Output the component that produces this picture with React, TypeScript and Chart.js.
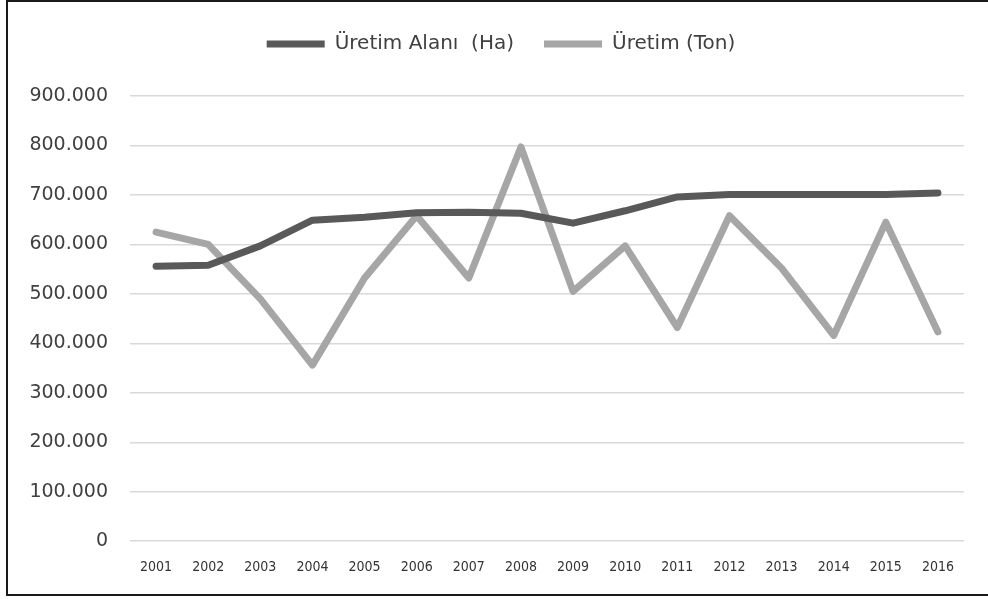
import React, { useEffect, useRef } from "react";
import { Chart, registerables } from "chart.js";

Chart.register(...registerables);

const years = ["2001","2002","2003","2004","2005","2006","2007","2008","2009","2010","2011","2012","2013","2014","2015","2016"];
const alanHa = [556000, 558000, 597000, 649000, 655000, 664000, 665000, 663000, 643000, 668000, 696000, 701000, 701000, 701000, 701000, 704000];
const uretimTon = [625000, 600000, 490000, 356000, 532000, 658000, 532000, 797000, 505000, 597000, 432000, 658000, 552000, 416000, 645000, 423000];
const seriesNames = ["Üretim Alanı  (Ha)", "Üretim (Ton)"];
const yTicksMax = 900000;
const yStep = 100000;

function fmt(v: number): string {
  return String(Math.round(v)).replace(/\B(?=(\d{3})+(?!\d))/g, ".");
}

const legendSpacer = {
  id: "legendSpacer",
  beforeInit(chart: any) {
    const legend = chart.legend;
    if (!legend) return;
    const origFit = legend.fit;
    legend.fit = function () {
      origFit.call(this);
      this.height += 32;
    };
  },
  afterLayout(chart: any) {
    if (chart.legend) chart.legend.left += 30;
  },
};

export default function App() {
  const ref = useRef<HTMLCanvasElement | null>(null);
  useEffect(() => {
    if (!ref.current) return;
    const chart = new Chart(ref.current, {
      type: "line",
      data: {
        labels: years,
        datasets: [
          {
            label: seriesNames[0],
            data: alanHa,
            borderColor: "#595959",
            backgroundColor: "#595959",
            borderWidth: 7,
            pointRadius: 0,
            borderCapStyle: "round",
            borderJoinStyle: "round",
            tension: 0,
          },
          {
            label: seriesNames[1],
            data: uretimTon,
            borderColor: "#a6a6a6",
            backgroundColor: "#a6a6a6",
            borderWidth: 7,
            pointRadius: 0,
            borderCapStyle: "round",
            borderJoinStyle: "round",
            tension: 0,
          },
        ],
      },
      plugins: [legendSpacer],
      options: {
        animation: false,
        responsive: true,
        maintainAspectRatio: false,
        layout: { padding: { top: 2, right: 30, bottom: 0, left: 0 } },
        plugins: {
          tooltip: { enabled: false },
          legend: {
            position: "top",
            labels: {
              usePointStyle: true,
              pointStyle: "line",
              pointStyleWidth: 58,
              padding: 30,
              color: "#404040",
              font: { family: "'DejaVu Sans'", size: 20 },
            },
          },
        },
        scales: {
          x: {
            offset: true,
            grid: { display: false, drawTicks: false },
            border: { display: false },
            ticks: {
              color: "#333333",
              padding: 18,
              maxRotation: 0,
              autoSkip: false,
              font: { family: "'DejaVu Sans'", size: 14, weight: "normal condensed" as any },
            },
          },
          y: {
            min: 0,
            max: yTicksMax,
            grid: { color: "#d9d9d9", lineWidth: 1.5, drawTicks: false },
            border: { display: false },
            afterFit: (scale: any) => {
              scale.width = 122;
            },
            ticks: {
              stepSize: yStep,
              padding: 22,
              color: "#404040",
              font: { family: "'DejaVu Sans'", size: 19 },
              callback: (v: any) => fmt(Number(v)),
            },
          },
        },
      },
    });
    return () => chart.destroy();
  }, []);

  return (
    <div
      style={{
        position: "absolute",
        left: 6,
        top: 0,
        width: 990,
        height: 596,
        boxSizing: "border-box",
        border: "2px solid #1a1a1a",
        background: "#fff",
      }}
    >
      <div style={{ position: "relative", width: 986, height: 592 }}>
        <canvas ref={ref} />
      </div>
    </div>
  );
}
